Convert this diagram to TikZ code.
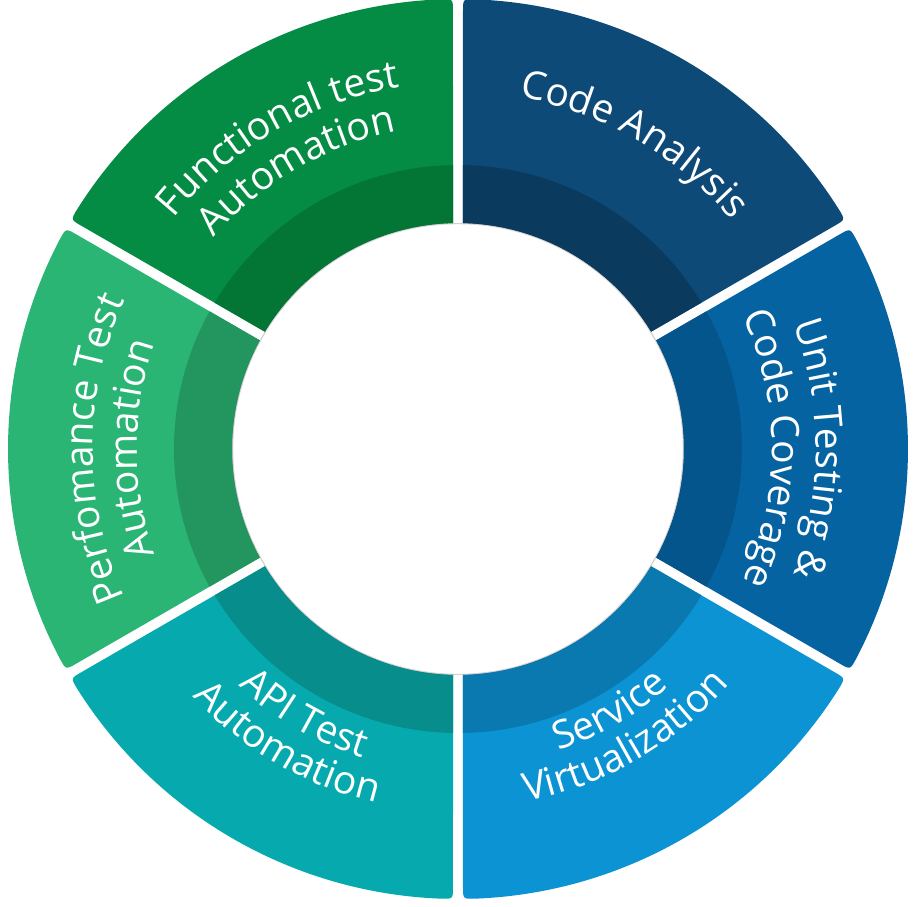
\documentclass[tikz,border=0pt]{standalone}
\usepackage{fontspec}
\setmainfont{Open Sans}
\usetikzlibrary{calc,decorations.text}

% segment fills (outer ring / darker inner band)
\definecolor{caOut}{HTML}{0E4A77}\definecolor{caIn}{HTML}{0A3A5E}
\definecolor{utOut}{HTML}{0563A2}\definecolor{utIn}{HTML}{04558C}
\definecolor{svOut}{HTML}{0B93D3}\definecolor{svIn}{HTML}{0979B0}
\definecolor{apOut}{HTML}{06AAAE}\definecolor{apIn}{HTML}{078D8C}
\definecolor{pfOut}{HTML}{2AB574}\definecolor{pfIn}{HTML}{23955F}
\definecolor{ftOut}{HTML}{048C45}\definecolor{ftIn}{HTML}{037636}

\def\rIn{226}  % white hole
\def\rBand{284} % edge of the darker band
\def\rOut{450} % outer rim
\pgfmathsetmacro\aIn{asin(5/\rIn)}
\pgfmathsetmacro\aBand{asin(5/\rBand)}
\pgfmathsetmacro\aOut{asin(5/\rOut)}
\pgfmathsetmacro\aRnd{12/\rOut*180/pi}

% one ring segment between angles #1 and #2, gaps 10 wide, rounded outer corners
\newcommand\ringseg[4]{%
  \pgfmathsetmacro\lo{#1}\pgfmathsetmacro\hi{#2}%
  \fill[#3] (\lo+\aIn:\rIn) -- ($(\lo:\rOut-12)+(\lo+90:5)$)
    .. controls (\lo+\aOut:\rOut) .. (\lo+\aOut+\aRnd:\rOut)
    arc[start angle=\lo+\aOut+\aRnd, end angle=\hi-\aOut-\aRnd, radius=\rOut]
    .. controls (\hi-\aOut:\rOut) .. ($(\hi:\rOut-12)+(\hi-90:5)$)
    -- (\hi-\aIn:\rIn)
    arc[start angle=\hi-\aIn, end angle=\lo+\aIn, radius=\rIn] -- cycle;
  \fill[#4] (\lo+\aIn:\rIn) -- (\lo+\aBand:\rBand)
    arc[start angle=\lo+\aBand, end angle=\hi-\aBand, radius=\rBand]
    -- (\hi-\aIn:\rIn)
    arc[start angle=\hi-\aIn, end angle=\lo+\aIn, radius=\rIn] -- cycle;
}

\tikzset{
  seglabel/.style={decorate, decoration={text along path, text align=center,
      text color=white, text={|\fontsize{39}{46}\selectfont|#1}}},
}

\begin{document}
\begin{tikzpicture}[x=1pt,y=1pt]
\useasboundingbox[fill=white] (-458,-457) rectangle (456,449);

\ringseg{30}{90}{caOut}{caIn}
\ringseg{90}{150}{ftOut}{ftIn}
\ringseg{150}{210}{pfOut}{pfIn}
\ringseg{210}{270}{apOut}{apIn}
\ringseg{270}{330}{svOut}{svIn}
\ringseg{-30}{30}{utOut}{utIn}

% faint shadow round the hole
\draw[black, opacity=0.18, line width=1.2pt] (0,0) circle[radius=\rIn-0.6];

% labels set along arcs
\path[seglabel={Code Analysis}] (105:357) arc[start angle=105, end angle=15, radius=357];

\path[seglabel={Functional test}] (165:366) arc[start angle=165, end angle=75, radius=366];
\path[seglabel={Automation}] (165:323) arc[start angle=165, end angle=75, radius=323];

\path[seglabel={Perfomance Test}] (225:365) arc[start angle=225, end angle=135, radius=365];
\path[seglabel={Automation}] (225:321) arc[start angle=225, end angle=135, radius=321];

\path[seglabel={Unit Testing {\&}}] (45:358) arc[start angle=45, end angle=-45, radius=358];
\path[seglabel={Code Coverage}] (45:314) arc[start angle=45, end angle=-45, radius=314];

\path[seglabel={Service}] (-105:318) arc[start angle=-105, end angle=-15, radius=318];
\path[seglabel={Virtualization}] (-105:359) arc[start angle=-105, end angle=-15, radius=359];

\path[seglabel={API Test}] (-165:323) arc[start angle=-165, end angle=-75, radius=323];
\path[seglabel={Automation}] (-165:363) arc[start angle=-165, end angle=-75, radius=363];
\end{tikzpicture}
\end{document}
